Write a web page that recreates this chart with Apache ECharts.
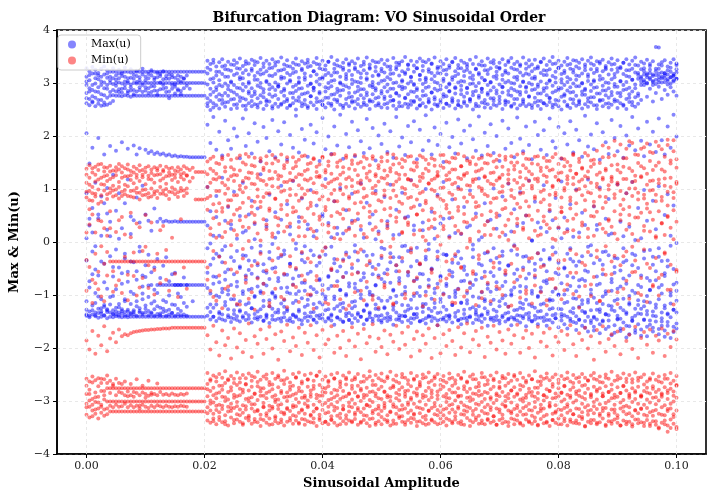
<!DOCTYPE html>
<html>
<head>
<meta charset="utf-8">
<script src="https://cdn.jsdelivr.net/npm/echarts@6/dist/echarts.min.js"></script>
<style>
  html, body { margin: 0; padding: 0; background: #ffffff; }
  #chart { width: 717px; height: 500px; }
</style>
</head>
<body>
<div id="chart"></div>
<script>
// amplitude sweep, in units of 1e-4
const amp = [
  0,5,10,15,20,25,30,35,40,45,50,55,60,65,70,75,80,85,90,95,100,105,110,115,120,125,130,135,140,145,150,155,160,165,170,175,180,185,190,195,200,
  205,210,215,220,225,230,235,240,245,250,255,260,265,270,275,280,285,290,295,300,305,310,315,320,325,330,335,340,345,350,355,360,365,370,375,380,385,390,395,400,
  405,410,415,420,425,430,435,440,445,450,455,460,465,470,475,480,485,490,495,500,505,510,515,520,525,530,535,540,545,550,555,560,565,570,575,580,585,590,595,600,
  605,610,615,620,625,630,635,640,645,650,655,660,665,670,675,680,685,690,695,700,705,710,715,720,725,730,735,740,745,750,755,760,765,770,775,780,785,790,795,800,
  805,810,815,820,825,830,835,840,845,850,855,860,865,870,875,880,885,890,895,900,905,910,915,920,925,930,935,940,945,950,955,960,965,970,975,980,985,990,995,1000
];

// Max(u) per amplitude, in hundredths
const maxU = [
  [328,312,296,281,262,205,92,-35,-128,-139,303,271,-112,7,-137],
  [322,305,290,270,258,31,-74,-131,-142,148,315,284,-86,-139,44],
  [330,318,287,275,265,178,64,-18,-120,-137,296,263,-129,-61,18],
  [325,309,299,284,256,112,-52,-96,-133,-140,318,272,-138,-8,-115],
  [319,314,292,268,261,196,45,-63,-126,-143,307,283,-103,-134,52],
  [327,303,296,279,257,86,12,-108,-135,-141,312,268,-131,-37,-125],
  [331,316,301,277,263,165,73,-41,-122,-139,290,258,-119,-76,-138],
  [324,310,289,272,259,54,-88,-129,-144,102,318,296,-132,23,-127],
  [321,312,300,276,262,181,38,-27,-118,-141,305,283,-133,-104,11],
  [328,321,298,277,266,127,-65,-102,-136,-142,309,287,-129,-47,-136],
  [321,306,300,284,276,172,59,-14,-124,-140,314,295,-137,-89,-131],
  [325,318,301,288,276,92,-48,-117,-133,-141,309,283,-123,-138,6],
  [321,313,299,282,275,188,26,-79,-127,-142,318,289,-135,-59,-130],
  [329,321,303,290,277,73,-31,-108,-138,-141,312,296,-132,-112,-22],
  [321,309,300,285,276,176,118,-56,-131,-142,303,281,-138,-128,-75],
  [326,320,297,286,274,48,15,-94,-136,-141,310,292,-134,-37,-117],
  [321,315,300,279,276,182,41,-38,-129,-141,308,287,-136,-98,-132],
  [323,321,302,299,276,165,84,-71,-112,-141,313,284,-139,-55,-121],
  [321,311,300,287,276,177,37,-18,-125,-141,305,292,-130,-133,-9],
  [327,321,296,300,276,106,-63,-97,-134,-141,316,283,-137,-108,-84],
  [321,305,300,292,276,174,52,-44,-120,-141,312,286,-133,-126,-66],
  [321,317,300,281,276,168,40,-82,-130,-141,309,290,-138,-104,-24],
  [324,321,300,294,276,171,21,-57,-116,-141,314,283,-135,-81,-133],
  [321,310,300,286,276,166,63,-90,-127,-141,306,294,-139,-112,-48],
  [321,319,300,278,276,169,38,-32,-81,-141,311,285,-136,-121,-96],
  [321,313,301,300,276,165,44,-68,-124,-141,317,288,-138,-81,-135],
  [322,321,300,289,276,167,38,-81,-110,-141,307,296,-132,-126,-45],
  [321,308,300,283,276,163,40,-29,-81,-141,313,291,-139,-113,-130],
  [321,316,300,276,271,165,38,-74,-128,-141,308,284,-137,-81,-101],
  [321,311,300,296,276,162,38,-81,-118,-141,315,289,-134,-134,-61],
  [321,300,297,276,280,163,39,-58,-81,-141,310,293,-139,-81,-119],
  [321,314,300,276,286,161,38,-81,-126,-141,306,288,-136,-97,-81],
  [321,300,303,276,279,162,38,-81,-104,-141,312,285,-138,-81,-130],
  [321,308,300,276,161,38,-67,-81,-141,309,290,-137,-115],
  [321,300,295,276,161,38,-81,-122,-141,314,-139,-81],
  [321,300,289,276,160,38,-81,-141],
  [321,300,276,160,38,-81,-112,-141],
  [321,300,276,160,38,-81,-141],
  [321,300,276,160,38,-81,-141],
  [321,300,276,160,38,-81,-141],
  [321,300,276,160,38,-81,-141],
  [342,318,297,271,256,221,104,-12,-87,-139,329,262,-124,-58,31],
  [336,325,289,266,249,187,58,-43,-118,-146,307,278,-97,-132,-3],
  [344,309,301,283,262,236,-31,-65,-124,-141,338,254,-141,12,-79],
  [331,314,292,274,258,174,87,-22,-101,-149,321,287,-66,-118,47],
  [339,321,305,279,252,208,12,-76,-132,-144,296,268,-135,-27,-104],
  [345,317,294,268,261,163,121,-38,-95,-137,331,276,-88,-146,-15],
  [333,326,299,281,255,229,-8,-57,-113,-148,312,263,-120,40,-71],
  [340,312,288,276,264,192,66,-91,-127,-142,325,295,-52,-138,-99],
  [335,323,303,285,251,176,33,-29,-108,-151,301,269,-143,-81,25],
  [343,315,296,270,259,214,95,-61,-136,-145,334,282,-108,-36,-129],
  [338,328,291,278,253,199,-17,-84,-119,-140,318,260,-75,-147,6],
  [346,311,307,273,266,158,49,-46,-129,-150,327,290,-131,-49,-112],
  [332,319,298,286,257,233,112,-25,-98,-143,309,271,-93,18,-140],
  [341,324,293,269,250,181,21,-71,-134,-147,336,257,-118,-63,-26],
  [337,316,302,280,262,205,-35,-53,-115,-138,299,284,-145,-90,52],
  [344,327,290,275,256,167,78,-88,-125,-152,323,266,-60,-125,-11],
  [334,313,306,284,260,224,5,-36,-104,-144,341,279,-136,-102,34],
  [339,320,295,271,254,189,63,-67,-131,-146,306,259,-84,-142,-44],
  [347,325,300,277,263,152,128,-19,-93,-141,316,292,-127,-7,-96],
  [330,318,288,282,251,217,-42,-79,-121,-149,337,273,-111,-55,-148],
  [342,322,304,268,258,196,41,-58,-137,-143,302,265,-139,29,-82],
  [336,314,297,279,265,171,89,-31,-110,-153,328,288,-70,-121,-19],
  [345,329,292,274,252,230,-4,-95,-126,-139,313,256,-146,-97,-50],
  [333,317,301,287,261,160,56,-48,-102,-147,339,277,-105,8,-133],
  [340,323,294,270,255,209,18,-74,-133,-145,297,293,-128,-68,-30],
  [348,312,308,283,259,184,106,-27,-116,-150,324,261,-87,-144,42],
  [335,326,289,276,264,226,-23,-62,-122,-142,310,286,-134,-16,-110],
  [343,319,299,266,253,155,71,-86,-130,-148,332,270,-62,-127,-95],
  [331,315,305,281,257,202,29,-41,-97,-144,303,258,-149,-41,14],
  [338,327,293,272,262,178,115,-69,-138,-151,319,281,-115,-80,-137],
  [346,321,296,285,250,238,-13,-52,-111,-140,335,267,-98,-3,-142],
  [334,310,302,273,266,169,47,-93,-128,-146,300,289,-131,-64,38],
  [341,324,290,279,256,213,82,-34,-106,-155,327,262,-77,-148,-21],
  [337,318,306,268,260,193,-38,-77,-135,-143,311,280,-122,-92,-8],
  [344,330,295,282,253,161,24,-60,-119,-149,338,256,-140,33,-109],
  [332,313,299,275,263,221,98,-16,-101,-141,298,275,-56,-133,-85],
  [339,322,291,286,258,186,11,-89,-132,-147,322,291,-117,-25,-146],
  [347,316,303,271,251,207,69,-45,-124,-152,336,264,-95,-139,21],
  [335,328,297,280,265,153,-27,-70,-114,-138,308,283,-144,-72,-39],
  [342,311,308,267,259,234,53,-98,-137,-145,326,259,-81,-118,48],
  [333,325,292,284,254,175,119,-24,-108,-150,315,272,-129,-11,-103],
  [340,319,300,272,262,199,36,-64,-127,-143,340,290,-66,-145,-88],
  [349,314,294,278,257,166,-9,-83,-139,-148,304,261,-137,-53,9],
  [336,327,305,269,250,218,77,-40,-103,-156,320,279,-108,-126,-32],
  [343,320,289,283,264,182,15,-55,-121,-142,333,268,-143,27,-74],
  [331,312,301,276,259,240,102,-91,-130,-146,299,286,-90,-117,-46],
  [338,329,296,287,253,157,-33,-66,-115,-151,325,257,-124,-150,16],
  [345,317,307,270,261,204,60,-20,-98,-140,312,294,-58,-101,-135],
  [334,323,291,281,256,179,27,-78,-134,-147,337,273,-147,-29,-84],
  [341,315,298,274,266,227,91,-49,-125,-153,306,263,-113,-138,40],
  [337,326,303,265,252,162,-18,-87,-112,-144,329,282,-79,-6,-121],
  [346,321,293,285,260,211,43,-35,-137,-149,302,270,-134,-92,-57],
  [332,310,300,277,255,190,111,-72,-106,-141,318,288,-141,23,-99],
  [340,324,288,271,263,168,8,-59,-129,-155,335,259,-67,-130,-18],
  [348,318,306,282,258,232,74,-26,-118,-146,309,277,-120,-86,-147],
  [335,329,295,268,251,177,-40,-94,-133,-142,327,265,-99,35,-136],
  [342,313,302,279,265,215,52,-47,-100,-150,296,292,-145,-61,-24],
  [330,322,290,286,257,154,96,-81,-126,-139,339,271,-82,-118,5],
  [339,316,299,273,262,201,20,-63,-140,-147,314,258,-127,-43,-106],
  [344,327,304,280,254,185,-11,-30,-111,-152,322,285,-138,-148,-70],
  [336,320,292,270,260,223,85,-76,-123,-144,305,274,-59,-13,-125],
  [343,311,297,284,253,170,39,-52,-135,-149,331,262,-111,-142,30],
  [331,325,307,275,266,209,108,-21,-105,-141,317,289,-146,-77,-38],
  [347,318,289,267,257,159,-29,-90,-128,-156,300,268,-92,-121,13],
  [338,330,301,281,251,236,61,-44,-114,-146,326,280,-133,-55,-102],
  [334,314,294,276,263,180,14,-68,-138,-143,338,256,-74,-147,-29],
  [341,322,305,288,256,197,93,-37,-99,-151,303,293,-119,-8,-139],
  [349,317,291,272,261,164,-7,-85,-131,-140,320,271,-140,-94,46],
  [335,326,299,279,254,219,48,-57,-120,-148,334,260,-63,-128,-17],
  [342,312,303,266,259,188,117,-15,-109,-153,311,284,-125,-46,-144],
  [333,321,296,283,264,228,31,-73,-136,-145,298,266,-102,-137,22],
  [340,328,290,274,252,156,-36,-96,-125,-142,328,287,-136,-70,-11],
  [346,315,306,269,258,212,70,-42,-102,-150,315,257,-85,-149,-60],
  [332,323,298,285,262,173,22,-61,-132,-147,341,276,-117,37,-123],
  [339,310,302,277,255,239,100,-28,-117,-154,307,291,-144,-94,-33],
  [344,326,293,270,265,191,-14,-82,-139,-141,321,263,-71,-126,-4],
  [337,319,307,282,250,165,57,-50,-107,-149,336,282,-130,-52,-141],
  [348,313,289,273,260,216,6,-88,-124,-144,302,269,-96,-115,26],
  [330,327,300,286,256,183,89,-33,-134,-157,319,259,-148,-18,-79],
  [341,318,295,268,263,204,35,-66,-113,-146,330,288,-64,-133,-107],
  [336,324,304,279,253,151,113,-23,-97,-143,308,274,-122,44,-146],
  [345,316,292,275,261,225,-25,-79,-128,-150,325,261,-139,-83,-24],
  [333,329,299,284,257,179,45,-54,-138,-145,297,285,-104,-140,11],
  [340,311,306,271,264,198,80,-39,-119,-152,339,267,-57,-119,-65],
  [347,322,290,280,252,167,17,-92,-104,-141,313,292,-134,-27,-97],
  [334,317,301,266,259,231,104,-18,-130,-148,328,258,-88,-147,-40],
  [342,328,295,287,255,186,-31,-74,-115,-155,304,279,-145,15,-114],
  [338,313,303,274,262,210,66,-46,-136,-144,322,265,-73,-128,-53],
  [331,325,291,281,257,158,28,-62,-110,-149,336,290,-116,-96,-143],
  [344,320,298,269,265,220,97,-87,-126,-142,310,270,-140,31,-76],
  [336,314,307,277,250,194,-5,-29,-103,-153,299,283,-81,-123,-14],
  [349,326,294,285,261,172,54,-71,-133,-146,327,256,-128,-61,-137],
  [335,319,300,272,256,237,120,-41,-121,-140,316,276,-147,-105,4],
  [341,310,289,283,263,163,9,-95,-137,-151,333,289,-68,-139,-44],
  [333,324,305,268,254,206,73,-56,-108,-145,305,262,-112,-21,-125],
  [346,317,296,278,260,181,-20,-80,-131,-158,324,281,-136,-88,39],
  [339,328,302,286,253,222,42,-35,-117,-143,301,271,-94,-146,-57],
  [343,312,292,271,266,168,101,-64,-128,-149,337,259,-143,-12,-109],
  [330,321,308,280,257,200,25,-89,-140,-147,314,286,-76,-131,-30],
  [338,327,297,274,262,153,-39,-51,-112,-154,329,268,-121,50,-148],
  [345,315,293,282,251,229,86,-26,-106,-142,306,292,-139,-83,-18],
  [334,323,301,267,259,176,13,-75,-135,-150,320,264,-62,-117,-101],
  [342,318,304,285,264,214,110,-44,-122,-146,339,278,-133,-45,-145],
  [347,329,290,276,255,187,-16,-91,-101,-157,300,257,-98,-142,20],
  [336,311,299,270,261,160,62,-60,-129,-143,326,287,-146,-6,-86],
  [340,325,306,284,252,235,30,-24,-138,-148,312,270,-71,-128,-52],
  [332,320,294,278,258,195,94,-83,-114,-152,335,283,-124,-94,-139],
  [348,314,302,269,265,171,-28,-48,-126,-144,303,261,-140,36,-117],
  [337,327,291,283,256,218,50,-69,-109,-159,318,293,-85,-136,-27],
  [343,316,300,275,260,183,116,-37,-134,-141,331,274,-118,-60,-146],
  [335,322,297,287,253,156,3,-97,-121,-150,309,258,-149,3,-92],
  [344,312,308,272,263,227,76,-53,-139,-146,327,288,-67,-124,-41],
  [331,328,293,280,257,202,37,-21,-104,-155,297,266,-131,-102,-143],
  [339,319,303,266,251,174,-33,-86,-130,-143,340,280,-93,27,-118],
  [346,324,290,285,262,211,107,-43,-116,-149,315,262,-142,-74,-15],
  [334,315,299,277,258,164,19,-72,-137,-158,323,291,-78,-147,-55],
  [341,326,305,271,264,233,58,-30,-111,-147,304,272,-127,-33,-108],
  [349,313,295,282,254,190,-10,-94,-125,-152,336,259,-110,-138,41],
  [337,321,301,268,260,178,83,-58,-136,-144,310,285,-144,-88,-20],
  [342,329,291,287,256,217,26,-39,-100,-161,328,267,-61,-126,-99],
  [333,317,307,274,250,157,114,-78,-127,-148,301,290,-136,7,-141],
  [340,323,296,279,265,205,46,-50,-138,-155,319,276,-99,-115,-48],
  [347,311,302,286,259,184,-22,-90,-113,-163,334,256,-141,-64,24],
  [336,327,292,270,253,228,71,-32,-131,-145,307,282,-83,-149,-12],
  [343,320,299,283,262,169,10,-67,-106,-151,325,269,-125,-37,-134],
  [331,314,306,276,257,212,99,-45,-140,-166,342,294,-107,-93,-153],
  [338,328,294,267,264,192,-37,-84,-122,-147,313,260,-146,18,-72],
  [345,318,300,284,252,161,55,-27,-117,-158,299,278,-70,-130,-110],
  [335,324,289,278,260,238,32,-73,-134,-149,330,287,-132,-54,-162],
  [342,312,304,271,255,180,118,-56,-109,-169,316,265,-114,-141,-9],
  [348,326,297,285,263,203,-6,-98,-129,-153,337,273,-90,-25,-148],
  [334,319,303,273,258,175,67,-40,-141,-160,305,291,-143,-105,-167],
  [341,327,292,280,251,224,23,-81,-115,-146,322,258,-65,-128,32],
  [337,313,306,268,266,155,103,-34,-132,-172,340,280,-127,-79,-155],
  [344,322,295,286,256,207,-19,-61,-103,-150,308,268,-148,-43,-117],
  [332,329,301,277,261,188,44,-93,-137,-164,326,286,-98,-136,-18],
  [339,316,290,272,254,166,81,-25,-120,-148,300,262,-138,13,-160],
  [346,325,307,283,259,230,16,-70,-128,-176,335,277,-76,-121,-92],
  [336,311,298,269,265,196,-30,-47,-111,-157,317,293,-130,-58,-171],
  [343,321,293,281,253,171,109,-88,-139,-145,328,266,-108,-146,-31],
  [330,328,304,275,262,219,38,-54,-124,-168,303,281,-145,-84,-163],
  [338,317,296,287,257,159,-12,-38,-107,-152,338,259,-69,-129,11],
  [345,324,302,270,251,201,92,-79,-133,-180,313,288,-136,-35,-158],
  [335,312,291,279,264,182,29,-63,-118,-159,324,272,-115,-102,-174],
  [342,327,306,284,258,236,113,-22,-143,-149,306,264,-92,-148,-44],
  [348,320,297,273,255,173,-25,-96,-126,-171,334,290,-139,4,-166],
  [333,315,308,280,261,214,64,-49,-110,-155,319,276,-81,-119,-135],
  [340,326,312,303,268,191,7,-85,-136,-165,309,296,-126,-63,-177],
  [337,322,316,305,296,162,98,-31,-121,-147,328,302,-146,-17,-112],
  [344,318,311,300,274,227,40,-68,-130,-178,315,299,-102,-137,-160],
  [332,325,319,307,289,184,-15,-90,-114,-156,336,310,-73,-91,-148],
  [341,316,313,302,265,208,78,-43,-139,-162,304,296,-131,-28,-169],
  [368,322,315,298,281,170,24,-72,-124,-150,327,306,-118,-140,-55],
  [367,335,327,318,306,293,233,105,-28,-108,-174,312,301,-86,-12,-164],
  [339,320,312,301,270,192,-36,-81,-133,-158,333,309,-144,-97,-150],
  [343,319,314,309,287,165,51,-59,-120,-167,318,302,-64,-125,-179],
  [331,324,316,304,278,218,90,-35,-137,-151,307,297,-135,-46,-158],
  [338,321,311,299,292,178,12,-95,-116,-181,329,311,-101,-142,-7],
  [345,317,313,305,284,240,69,-51,-128,-160,314,303,-128,-80,-170],
  [334,326,320,308,276,199,-2,-77,-111,-154,337,308,-92,-133,-163]
];

// Min(u) per amplitude, in hundredths
const minU = [
  [138,112,84,18,-92,-186,-258,-287,-305,-326,127,95,-34,-271,-312],
  [145,121,96,-47,33,-203,-263,-279,-311,-331,108,79,62,-287,-299],
  [131,104,78,52,-115,-168,-254,-296,-318,-329,139,92,-71,-265,-307],
  [142,127,91,-22,-78,-211,-261,-284,-302,-324,114,86,18,-293,-316],
  [136,118,72,41,-56,-177,-257,-292,-314,-333,146,99,-89,-272,-303],
  [147,109,88,-8,-103,-195,-266,-281,-307,-322,121,76,39,-258,-311],
  [133,124,97,26,-41,-159,-259,-289,-316,-328,141,108,-112,-281,-297],
  [140,115,81,-63,12,-206,-252,-276,-301,-325,126,90,-19,-266,-314],
  [144,119,93,-37,58,-182,-262,-276,-301,-320,133,101,26,-285,-309],
  [135,106,86,-37,-94,-171,-271,-276,-301,-320,122,97,-55,-268,-312],
  [141,126,99,-37,19,-189,-258,-276,-301,-320,134,88,-82,-289,-307],
  [137,113,82,-37,-72,-165,-266,-276,-301,-320,147,104,41,-283,-311],
  [143,121,95,-37,47,-178,-276,-285,-301,-320,131,87,-96,-268,-310],
  [139,108,90,-37,-28,-174,-263,-276,-301,-320,124,98,14,-289,-305],
  [146,124,87,-37,-110,-176,-276,-291,-301,-320,137,105,-62,-282,-312],
  [134,117,96,-37,9,-172,-268,-276,-301,-320,126,86,55,-289,-308],
  [142,111,84,-37,-64,-170,-276,-301,-312,-320,131,97,-20,-283,-292],
  [138,127,93,-37,35,-169,-259,-276,-301,-320,121,102,-101,-285,-309],
  [145,115,80,-37,-86,-168,-276,-301,-309,-320,134,93,28,-289,-314],
  [136,122,98,-37,-17,-167,-271,-276,-301,-320,127,88,-68,-284,-307],
  [140,109,89,-37,51,-166,-276,-294,-301,-320,132,99,-9,-287,-311],
  [143,125,92,-37,-44,-166,-262,-276,-301,-320,119,84,-87,-290,-313],
  [137,118,86,-37,-165,-276,-301,-320,-285,130,101,37,-288,-309],
  [141,112,95,-37,-99,-165,-276,-301,-320,126,90,-53,-287,-312],
  [139,127,83,-37,-164,-276,-301,-320,-267,135,96,-22,-289,-308],
  [144,116,91,-37,22,-164,-276,-301,-320,128,104,-78,-283,-310],
  [136,120,97,-37,-163,-276,-301,-320,133,91,30,-288,-312],
  [142,110,88,-37,-71,-163,-276,-301,-320,124,100,-15,-287,-309],
  [138,125,81,-37,-163,-276,-301,-320,131,95,-92,-289,-311],
  [140,117,94,-37,-162,-276,-301,-320,127,103,8,-286,-312],
  [135,128,90,-37,-162,-276,-301,-320,121,99,-60,-288,-310],
  [141,113,85,-37,-162,-276,-301,-320,133,94,-104,-289,-311],
  [137,122,96,-37,-162,-276,-301,-320,128,102,43,-287,-309],
  [143,118,87,-37,-162,-276,-301,-320,130,97,-48,-288,-310],
  [139,126,92,-37,-162,-276,-301,-320,125,101,-88,-286,-311],
  [136,114,-37,-162,-276,-301,-320],
  [140,121,-37,-162,-276,-301,-320],
  [132,80,-37,-162,-276,-301,-320],
  [132,80,-37,-162,-276,-301,-320],
  [132,80,-37,-162,-276,-301,-320],
  [132,80,-37,-162,-276,-301,-320],
  [152,104,61,-48,-176,-247,-268,-291,-312,-337,128,83,-71,-278,-323],
  [138,87,26,-92,-203,-259,-281,-299,-318,-341,157,112,14,-262,-305],
  [161,119,45,-17,-158,-252,-275,-303,-324,-333,134,71,-104,-289,-338],
  [129,96,8,-111,-189,-263,-286,-295,-309,-344,149,118,58,-255,-317],
  [147,73,34,-63,-214,-249,-271,-307,-321,-336,122,96,-28,-284,-330],
  [156,112,57,-125,-167,-256,-279,-292,-315,-340,160,64,9,-271,-309],
  [133,91,19,-39,-195,-244,-266,-300,-327,-338,141,107,-88,-293,-344],
  [164,101,68,-84,-181,-261,-283,-297,-311,-346,118,79,36,-259,-320],
  [141,79,40,-6,-220,-253,-274,-305,-319,-331,155,124,-52,-280,-313],
  [127,115,52,-101,-163,-258,-288,-294,-313,-342,137,88,22,-266,-336],
  [158,88,13,-57,-199,-246,-270,-302,-325,-335,126,61,-117,-291,-310],
  [135,106,64,-118,-172,-265,-277,-289,-316,-339,163,99,41,-257,-327],
  [150,94,29,-31,-208,-251,-284,-308,-322,-345,115,74,-13,-279,-342],
  [166,121,48,-77,-185,-257,-269,-296,-310,-332,146,103,-66,-268,-316],
  [131,83,2,-107,-154,-248,-280,-301,-328,-337,161,120,27,-295,-331],
  [145,110,55,-45,-217,-262,-273,-293,-314,-343,130,67,-95,-253,-306],
  [159,76,37,-128,-178,-255,-287,-306,-320,-334,143,109,51,-286,-339],
  [128,99,16,-69,-192,-245,-272,-298,-317,-340,121,86,-40,-264,-319],
  [153,117,66,-22,-165,-260,-282,-290,-326,-347,158,76,3,-276,-334],
  [140,85,43,-96,-211,-254,-276,-304,-312,-336,136,115,-79,-290,-311],
  [162,108,24,-54,-183,-250,-285,-295,-323,-341,148,92,33,-258,-328],
  [134,92,59,-115,-160,-264,-270,-309,-318,-333,119,63,-121,-282,-345],
  [148,120,10,-35,-201,-247,-278,-292,-311,-344,164,105,16,-269,-314],
  [157,81,47,-88,-174,-258,-289,-302,-329,-338,132,82,-57,-297,-332],
  [126,103,31,-12,-222,-252,-274,-297,-315,-342,153,119,45,-255,-308],
  [165,95,62,-104,-169,-261,-281,-306,-321,-335,124,70,-24,-285,-340],
  [139,113,20,-60,-187,-243,-268,-293,-325,-346,145,97,-108,-261,-322],
  [151,78,51,-123,-156,-257,-284,-300,-313,-339,160,113,29,-292,-315],
  [130,100,35,-27,-206,-265,-279,-291,-319,-332,117,88,-46,-273,-337],
  [160,116,4,-81,-180,-249,-271,-308,-327,-343,139,65,56,-288,-312],
  [143,89,58,-49,-196,-255,-286,-296,-310,-337,151,122,-85,-256,-329],
  [155,107,28,-113,-162,-246,-275,-303,-322,-341,128,78,11,-281,-343],
  [127,84,46,-19,-213,-263,-282,-294,-316,-334,162,101,-63,-267,-318],
  [163,118,11,-72,-171,-251,-290,-305,-324,-345,134,90,39,-294,-335],
  [137,97,63,-99,-190,-259,-273,-299,-312,-338,147,116,-31,-260,-309],
  [149,74,25,-38,-157,-248,-280,-292,-328,-340,120,68,-99,-287,-326],
  [158,111,53,-126,-204,-262,-277,-307,-320,-333,156,94,20,-271,-341],
  [132,93,7,-64,-176,-253,-288,-295,-314,-347,142,123,-72,-252,-314],
  [146,122,42,-29,-218,-245,-270,-301,-326,-336,125,80,48,-290,-332],
  [161,86,33,-91,-166,-260,-283,-290,-317,-342,159,107,-17,-275,-307],
  [136,104,60,-10,-193,-254,-276,-304,-323,-339,131,66,-114,-284,-339],
  [152,80,18,-117,-184,-264,-272,-298,-311,-344,144,111,31,-262,-321],
  [129,114,49,-53,-159,-250,-285,-306,-329,-335,165,91,-50,-296,-336],
  [166,98,27,-83,-209,-257,-279,-293,-318,-341,118,77,7,-258,-311],
  [142,77,56,-33,-177,-247,-289,-302,-313,-346,150,120,-83,-280,-328],
  [154,109,5,-108,-200,-263,-274,-296,-324,-332,127,98,53,-268,-344],
  [131,90,44,-66,-168,-252,-281,-309,-315,-338,141,62,-36,-293,-316],
  [159,119,21,-24,-215,-259,-269,-291,-327,-343,163,104,-127,-256,-333],
  [138,82,61,-120,-186,-246,-287,-303,-320,-337,122,86,24,-286,-310],
  [147,105,36,-42,-161,-261,-277,-297,-312,-340,154,117,-61,-271,-338],
  [164,94,12,-95,-197,-255,-284,-305,-326,-334,136,73,40,-259,-322],
  [126,112,54,-58,-173,-249,-271,-292,-317,-345,148,95,-20,-291,-313],
  [151,75,30,-14,-221,-264,-280,-300,-321,-339,116,109,-92,-277,-341],
  [140,101,65,-110,-164,-253,-288,-294,-314,-336,161,84,15,-263,-327],
  [157,87,9,-75,-191,-258,-275,-307,-328,-342,129,121,-44,-289,-308],
  [133,116,47,-36,-179,-244,-283,-298,-310,-347,145,69,57,-254,-334],
  [162,92,23,-102,-155,-262,-270,-302,-323,-333,157,102,-109,-282,-319],
  [128,106,58,-51,-207,-251,-286,-291,-316,-341,124,91,28,-270,-345],
  [145,79,15,-124,-182,-257,-278,-309,-325,-338,139,114,-67,-295,-314],
  [160,121,40,-26,-198,-248,-273,-296,-319,-344,152,76,1,-261,-330],
  [135,88,62,-86,-167,-263,-282,-304,-313,-335,120,97,-81,-283,-309],
  [153,110,26,-61,-212,-254,-289,-293,-327,-340,166,125,34,-257,-337],
  [139,83,50,-9,-175,-245,-276,-300,-320,-346,133,64,-29,-292,-321],
  [165,97,6,-116,-188,-260,-271,-306,-311,-337,146,108,-118,-274,-343],
  [130,114,38,-44,-158,-252,-285,-295,-324,-343,158,87,46,-263,-312],
  [148,76,57,-79,-202,-266,-279,-299,-317,-332,127,119,-55,-288,-329],
  [156,103,17,-30,-171,-249,-274,-308,-329,-339,141,72,19,-255,-316],
  [127,91,45,-106,-194,-256,-287,-292,-314,-345,153,100,-98,-281,-340],
  [161,118,32,-56,-160,-261,-280,-303,-322,-336,119,83,37,-268,-307],
  [137,85,64,-20,-216,-247,-272,-297,-318,-341,162,116,-12,-294,-332],
  [150,108,14,-97,-183,-258,-284,-305,-326,-334,135,67,-74,-260,-324],
  [142,80,52,-67,-169,-253,-277,-290,-312,-347,149,105,52,-286,-339],
  [163,115,22,-40,-205,-264,-269,-301,-323,-338,123,92,-42,-272,-313],
  [129,95,60,-121,-176,-250,-288,-294,-315,-342,160,121,10,-257,-330],
  [155,73,3,-16,-192,-255,-281,-307,-328,-335,138,78,-101,-291,-345],
  [134,111,41,-85,-163,-246,-275,-298,-319,-343,147,110,25,-265,-318],
  [158,99,29,-52,-219,-262,-286,-293,-313,-337,117,63,-58,-280,-335],
  [144,120,55,-109,-181,-257,-270,-304,-325,-340,155,96,43,-254,-310],
  [126,86,11,-28,-157,-249,-282,-296,-317,-344,132,124,-86,-289,-327],
  [164,102,48,-73,-210,-260,-278,-309,-321,-333,144,81,-5,-270,-342],
  [140,78,24,-99,-174,-253,-273,-291,-327,-339,164,103,30,-262,-316],
  [152,117,63,-37,-196,-265,-287,-302,-314,-346,126,70,-69,-294,-333],
  [131,93,8,-62,-166,-248,-279,-295,-322,-336,150,118,55,-258,-308],
  [159,109,46,-114,-187,-256,-271,-306,-316,-342,137,89,-33,-284,-339],
  [137,81,30,-23,-213,-261,-284,-299,-329,-335,158,112,-115,-267,-321],
  [166,100,59,-89,-161,-251,-276,-292,-311,-341,121,66,21,-290,-314],
  [143,119,16,-47,-199,-258,-290,-303,-325,-338,143,99,-49,-256,-344],
  [128,84,53,-103,-172,-245,-272,-308,-318,-345,162,125,38,-278,-326],
  [154,107,37,-11,-154,-263,-283,-294,-320,-332,130,76,-92,-265,-311],
  [147,90,1,-78,-208,-254,-277,-300,-313,-347,152,106,6,-293,-337],
  [160,113,43,-55,-184,-250,-286,-297,-326,-340,118,85,-60,-259,-319],
  [133,75,66,-119,-168,-259,-274,-305,-315,-336,146,119,47,-287,-331],
  [157,104,20,-32,-195,-266,-281,-290,-328,-343,135,68,-25,-272,-307],
  [138,96,51,-94,-162,-247,-288,-302,-319,-337,159,101,-106,-255,-342],
  [149,122,13,-65,-217,-255,-270,-296,-312,-344,124,90,32,-283,-323],
  [165,87,39,-18,-179,-261,-285,-307,-324,-334,148,115,-77,-268,-336],
  [130,110,58,-112,-190,-252,-278,-293,-317,-341,163,74,13,-296,-312],
  [152,82,25,-48,-158,-258,-273,-304,-329,-338,131,108,-39,-261,-329],
  [141,116,47,-84,-203,-246,-289,-298,-314,-345,155,83,54,-286,-345],
  [163,94,10,-27,-170,-264,-276,-291,-321,-336,120,122,-88,-273,-316],
  [127,105,62,-100,-186,-253,-283,-306,-326,-342,142,95,18,-257,-333],
  [155,79,31,-59,-211,-257,-271,-300,-311,-339,161,64,-54,-291,-309],
  [136,118,4,-122,-165,-249,-287,-295,-318,-347,128,111,42,-266,-340],
  [162,98,54,-41,-192,-262,-280,-303,-323,-333,150,87,-120,-280,-320],
  [144,83,19,-76,-176,-251,-274,-292,-315,-344,137,117,-8,-254,-335],
  [150,112,44,-13,-156,-260,-286,-308,-327,-337,165,72,35,-288,-313],
  [132,91,65,-105,-209,-247,-279,-297,-320,-341,122,102,-65,-270,-343],
  [167,107,27,-53,-181,-256,-272,-301,-313,-346,145,93,23,-295,-326],
  [139,77,50,-91,-167,-265,-288,-294,-325,-335,157,120,-97,-262,-310],
  [156,115,7,-31,-200,-252,-277,-305,-317,-340,133,67,50,-284,-338],
  [128,101,42,-116,-173,-259,-283,-290,-328,-343,148,106,-30,-259,-318],
  [161,86,21,-63,-218,-244,-275,-302,-312,-338,119,82,-82,-292,-331],
  [146,120,59,-21,-160,-263,-285,-296,-322,-345,162,114,12,-275,-346],
  [134,95,14,-95,-188,-254,-270,-307,-319,-334,140,75,-47,-263,-314],
  [159,80,48,-45,-171,-258,-289,-299,-314,-342,126,98,39,-289,-329],
  [141,113,33,-120,-197,-248,-278,-293,-326,-339,153,123,-110,-256,-341],
  [153,89,61,-70,-163,-261,-281,-304,-311,-347,135,70,26,-281,-309],
  [137,106,6,-24,-214,-255,-273,-295,-324,-336,160,104,-70,-268,-336],
  [166,93,45,-87,-179,-250,-286,-308,-320,-341,123,88,4,-294,-322],
  [130,117,28,-50,-189,-266,-276,-291,-316,-333,147,116,-35,-260,-344],
  [158,84,56,-108,-168,-253,-284,-301,-327,-344,131,65,57,-285,-317],
  [143,102,17,-34,-204,-259,-272,-297,-313,-338,156,97,-91,-271,-333],
  [151,124,40,-80,-175,-246,-288,-306,-322,-346,118,110,20,-257,-311],
  [135,78,63,-15,-157,-263,-279,-294,-318,-335,144,84,-58,-290,-339],
  [164,109,22,-98,-193,-251,-274,-303,-325,-341,166,121,44,-266,-325],
  [129,97,52,-58,-215,-257,-287,-299,-314,-337,129,73,-23,-282,-342],
  [157,114,9,-124,-172,-264,-280,-290,-329,-343,151,100,-103,-255,-315],
  [140,88,37,-39,-185,-249,-271,-305,-321,-334,138,118,31,-293,-330],
  [168,105,60,-83,-162,-256,-285,-296,-312,-348,124,79,-44,-270,-347],
  [133,121,25,-19,-201,-261,-277,-308,-326,-339,163,94,9,-262,-319],
  [154,92,49,-102,-178,-252,-289,-293,-317,-342,142,112,-80,-287,-336],
  [147,76,12,-66,-222,-247,-273,-302,-323,-336,155,68,48,-258,-310],
  [172,110,57,-29,-166,-260,-282,-297,-315,-344,127,104,-16,-279,-341],
  [131,99,34,-111,-190,-254,-276,-306,-328,-340,149,86,-112,-264,-324],
  [160,118,64,-52,-159,-265,-286,-291,-319,-333,182,121,25,-291,-313],
  [138,85,18,-8,-207,-250,-272,-304,-313,-347,135,75,-62,-256,-345],
  [178,107,43,-93,-183,-258,-283,-300,-324,-338,160,99,40,-283,-328],
  [145,123,29,-61,-174,-245,-279,-295,-316,-343,120,114,-37,-269,-338],
  [163,90,58,-26,-196,-262,-288,-307,-322,-335,191,83,16,-294,-316],
  [136,112,5,-117,-169,-253,-274,-292,-327,-341,146,108,-95,-260,-332],
  [184,96,41,-44,-212,-257,-285,-303,-314,-346,131,70,52,-285,-346],
  [142,80,62,-88,-164,-248,-271,-298,-320,-337,158,119,-27,-272,-311],
  [158,119,23,-18,-187,-264,-280,-309,-325,-344,176,92,-73,-258,-339],
  [190,101,51,-107,-175,-251,-287,-294,-312,-339,139,66,34,-290,-323],
  [134,87,15,-57,-202,-259,-276,-302,-329,-348,187,113,-9,-265,-344],
  [165,115,46,-35,-160,-246,-284,-296,-318,-335,125,101,-56,-281,-317],
  [149,93,3,-96,-219,-262,-273,-305,-323,-342,164,80,46,-256,-335],
  [176,124,55,-68,-181,-255,-289,-291,-315,-340,143,122,-100,-292,-314],
  [139,82,30,-14,-170,-250,-281,-307,-326,-347,179,89,21,-269,-341],
  [186,108,63,-113,-194,-263,-275,-297,-313,-336,129,72,-41,-284,-328],
  [153,97,20,-49,-165,-257,-286,-303,-321,-343,170,115,56,-260,-347],
  [168,116,42,-81,-209,-248,-272,-294,-328,-338,136,98,-84,-277,-319],
  [144,89,8,-30,-177,-260,-283,-306,-317,-345,189,77,11,-293,-338],
  [181,111,58,-101,-186,-254,-279,-299,-324,-350,150,118,-68,-263,-352],
  [137,78,35,-62,-163,-265,-288,-292,-312,-341,175,85,36,-286,-326],
  [161,120,13,-22,-215,-251,-274,-308,-327,-337,133,106,-20,-258,-344],
  [193,95,49,-90,-173,-258,-285,-296,-319,-346,-358,183,69,47,-280,-315],
  [148,104,27,-43,-198,-247,-277,-305,-314,-335,154,121,-90,-267,-351],
  [171,83,60,-118,-168,-262,-282,-301,-325,-343,192,94,5,-290,-330],
  [156,113,38,-56,-184,-253,-270,-294,-318,-349,140,110,-53,-271,-353]
];

const xTicks = [0, 0.02, 0.04, 0.06, 0.08, 0.10];

function toPoints(cols) {
  const pts = [];
  cols.forEach(function (col, i) {
    col.forEach(function (v) { pts.push([amp[i] / 10000, v / 100]); });
  });
  return pts;
}

const serif = '"DejaVu Serif", serif';
const chart = echarts.init(document.getElementById('chart'));

const option = {
  animation: false,
  backgroundColor: '#ffffff',
  graphic: [{
    type: 'text',
    x: 379, y: 18,
    style: {
      text: 'Bifurcation Diagram: VO Sinusoidal Order',
      textAlign: 'center', textVerticalAlign: 'middle',
      font: 'bold 14px "DejaVu Serif", serif',
      fill: '#000000'
    }
  }],
  grid: {
    left: 52, right: 11, top: 30, bottom: 46,
    show: true, borderColor: '#000000', borderWidth: 1.6, backgroundColor: 'transparent'
  },
  legend: {
    data: ['Max(u)', 'Min(u)'],
    orient: 'vertical',
    left: 58, top: 35,
    padding: [4, 10, 4, 10],
    itemGap: 5,
    itemWidth: 8, itemHeight: 8,
    icon: 'circle',
    backgroundColor: 'rgba(255,255,255,0.85)',
    borderColor: '#cccccc', borderWidth: 1, borderRadius: 3,
    textStyle: { fontFamily: serif, fontSize: 11, color: '#000000', padding: [0, 0, 0, 10] }
  },
  xAxis: {
    type: 'value',
    min: -0.005, max: 0.105,
    axisLine: { show: true, onZero: false, lineStyle: { color: '#000000', width: 1.6 } },
    axisTick: { show: true, length: 4, customValues: xTicks, lineStyle: { color: '#000000' } },
    axisLabel: {
      customValues: xTicks, margin: 7,
      fontFamily: serif, fontSize: 11, color: '#222222',
      formatter: function (v) { return v.toFixed(2); }
    },
    splitLine: { show: false },
    name: 'Sinusoidal Amplitude',
    nameLocation: 'middle', nameGap: 23,
    nameTextStyle: { fontFamily: serif, fontWeight: 'bold', fontSize: 13, color: '#000000' }
  },
  yAxis: {
    type: 'value',
    min: -4, max: 4, interval: 1,
    axisLine: { show: true, onZero: false, lineStyle: { color: '#000000', width: 1.6 } },
    axisTick: { show: true, length: 4, lineStyle: { color: '#000000' } },
    axisLabel: {
      margin: 7, fontFamily: serif, fontSize: 11, color: '#222222',
      formatter: function (v) { return v < 0 ? '\u2212' + Math.abs(v) : String(v); }
    },
    splitLine: { show: true, lineStyle: { color: '#e2e2e2', type: [3, 3], width: 0.8 } },
    name: 'Max & Min(u)',
    nameLocation: 'middle', nameGap: 36,
    nameTextStyle: { fontFamily: serif, fontWeight: 'bold', fontSize: 13, color: '#000000' }
  },
  series: [
    {
      name: 'xgrid',
      type: 'scatter',
      data: [],
      silent: true,
      markLine: {
        silent: true, symbol: 'none', animation: false,
        label: { show: false },
        lineStyle: { color: '#e2e2e2', type: [3, 3], width: 0.8 },
        data: xTicks.map(function (t) { return { xAxis: t }; })
      }
    },
    {
      name: 'Max(u)',
      type: 'scatter',
      symbol: 'circle', symbolSize: 4,
      progressive: 0,
      itemStyle: { color: 'rgba(0,0,250,0.6)' },
      data: toPoints(maxU)
    },
    {
      name: 'Min(u)',
      type: 'scatter',
      symbol: 'circle', symbolSize: 4,
      progressive: 0,
      itemStyle: { color: 'rgba(250,0,0,0.6)' },
      data: toPoints(minU)
    }
  ]
};

chart.setOption(option);
</script>
</body>
</html>
